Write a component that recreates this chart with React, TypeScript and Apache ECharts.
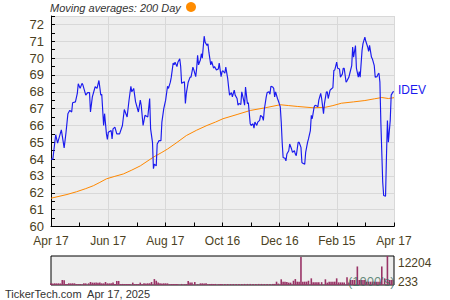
import React, { useEffect, useRef } from "react";
import * as echarts from "echarts";

// days since 2024-04-17, closing price
const price: [number, number][] = [
  [0,64.0],[2,64.0],[3,64.5],[5,65.45],[7,64.95],[11,65.74],[14,64.67],[16,65.6],[18,66.7],[20,66.9],[22,66.8],[23,67.35],[26,67.4],[28,67.9],[29,68.48],[31,68.2],[33,68.5],[34,68.4],[37,67.8],[39,67.95],[41,67.95],[42,66.8],[44,67.7],[47,68.3],[49,68.2],[51,68.67],[53,67.8],[54,67.85],[56,66.0],[57,66.7],[59,65.5],[60,65.17],[61,65.6],[64,65.7],[65,65.2],[66,65.8],[68,65.9],[70,65.5],[73,65.5],[76,66.0],[78,66.95],[81,66.5],[83,67.48],[85,68.33],[86,68.0],[88,68.2],[90,67.4],[93,66.8],[95,67.5],[96,67.2],[98,66.0],[100,66.6],[103,66.5],[105,67.6],[106,65.8],[108,65.0],[109,63.43],[110,63.7],[112,63.6],[113,64.9],[115,65.1],[117,65.1],[118,66.2],[120,67.0],[122,67.5],[124,68.33],[125,68.2],[127,68.57],[128,68.87],[130,69.7],[131,69.6],[132,69.75],[134,69.5],[135,69.75],[137,69.96],[138,69.5],[139,68.5],[142,68.6],[143,67.3],[144,67.9],[146,68.57],[148,68.87],[149,68.87],[151,69.46],[152,69.3],[154,68.9],[155,69.4],[156,70.16],[157,69.6],[159,69.9],[160,70.26],[161,70.0],[163,71.3],[164,70.95],[166,70.75],[167,70.85],[168,70.35],[170,69.6],[171,69.8],[173,69.4],[174,69.5],[176,69.3],[178,69.35],[179,69.7],[181,68.9],[182,69.2],[183,69.25],[185,69.1],[186,69.46],[188,68.8],[189,68.28],[190,67.8],[192,67.95],[193,67.7],[195,68.1],[196,67.8],[198,67.6],[199,67.2],[200,67.3],[202,67.25],[203,68.0],[205,67.5],[206,67.2],[207,68.28],[209,67.3],[210,67.35],[212,66.1],[213,66.0],[215,66.1],[216,65.84],[217,66.2],[219,66.0],[220,66.2],[222,66.3],[223,66.6],[225,66.5],[226,66.3],[227,66.95],[229,67.68],[230,67.95],[232,68.0],[233,67.85],[234,68.33],[236,68.28],[237,68.2],[238,67.7],[239,68.0],[241,67.6],[242,67.45],[244,67.1],[245,66.2],[246,65.0],[247,64.1],[249,64.05],[250,63.9],[251,64.3],[253,64.5],[254,64.9],[256,64.6],[257,64.4],[259,64.5],[260,64.3],[261,64.2],[263,65.0],[264,65.0],[266,64.7],[267,63.8],[268,63.75],[270,63.7],[271,64.4],[273,65.0],[274,65.2],[276,65.7],[277,66.6],[278,66.4],[280,67.1],[281,67.2],[283,67.15],[284,67.1],[285,67.5],[287,67.9],[288,67.6],[290,66.7],[291,67.3],[293,67.98],[294,68.0],[295,67.6],[297,68.1],[298,68.15],[300,68.25],[301,69.27],[302,69.3],[304,69.76],[305,69.4],[307,69.35],[308,68.87],[310,69.05],[311,69.4],[312,69.4],[314,68.57],[315,68.65],[317,68.87],[318,69.1],[320,69.55],[321,70.65],[322,70.06],[324,70.75],[325,69.4],[327,68.87],[328,69.2],[329,68.87],[331,70.46],[332,70.86],[334,71.25],[335,71.0],[337,70.66],[338,70.4],[339,70.76],[341,70.06],[342,69.95],[344,69.55],[345,68.87],[347,68.9],[348,69.05],[349,69.1],[350,68.57],[351,66.2],[353,62.63],[354,61.84],[356,61.8],[357,64.2],[358,66.3],[359,65.0],[361,66.3],[362,67.8],[364,68.0],[365,68.0]
];

// 200-day moving average
const ma200: [number, number][] = [
  [0,61.68],[17,61.9],[27,62.06],[37,62.25],[45,62.42],[52,62.62],[59,62.83],[68,62.98],[77,63.12],[86,63.35],[95,63.6],[109,64.12],[118,64.4],[124,64.6],[133,64.95],[144,65.4],[155,65.72],[166,66.0],[175,66.2],[183,66.4],[198,66.65],[212,66.89],[228,67.05],[244,67.23],[253,67.18],[262,67.13],[279,67.05],[292,67.08],[300,67.18],[309,67.32],[322,67.4],[334,67.48],[344,67.58],[352,67.66],[359,67.6],[365,67.65]
];

// volume (shares)
const volume: [number, number][] = [
  [0,700],[2,650],[4,720],[6,680],[8,700],[10,650],[12,2100],[14,2000],[15,400],[17,420],[19,700],[21,680],[23,720],[25,700],[27,400],[29,380],[31,420],[33,250],[35,700],[37,680],[40,700],[42,1250],[44,1000],[46,980],[48,1020],[50,950],[52,1000],[54,700],[56,680],[58,1250],[60,700],[62,680],[64,700],[66,1100],[68,400],[70,1700],[72,1700],[74,400],[76,450],[78,420],[80,450],[82,430],[84,450],[87,1000],[89,400],[91,420],[93,400],[95,1000],[97,300],[99,700],[101,680],[103,700],[105,720],[107,1250],[110,2500],[112,1800],[114,1000],[116,700],[118,680],[120,700],[122,700],[124,680],[126,300],[128,400],[130,420],[132,400],[134,400],[136,250],[139,450],[142,300],[144,350],[146,1700],[148,1000],[150,1000],[153,1250],[156,300],[159,700],[161,700],[163,680],[165,700],[167,300],[169,450],[171,450],[173,430],[175,450],[178,300],[180,400],[182,450],[185,400],[188,420],[191,400],[194,420],[197,400],[200,420],[203,400],[206,450],[209,450],[212,450],[215,430],[218,450],[221,450],[224,450],[227,430],[230,450],[233,450],[236,450],[238,450],[240,1400],[242,600],[245,2400],[247,1400],[249,1400],[251,1300],[253,1000],[255,1000],[258,1800],[260,2500],[262,1400],[264,1400],[266,11800],[268,1400],[270,1400],[272,1400],[274,1800],[277,2800],[279,1200],[281,1200],[283,1200],[285,1200],[288,1200],[292,2400],[294,1000],[296,1400],[298,1400],[300,1400],[302,1400],[304,2800],[306,1100],[308,1100],[310,1100],[312,1100],[315,3300],[317,1100],[319,2100],[321,2100],[323,2100],[326,7800],[328,2100],[330,2100],[332,2100],[334,2100],[336,1400],[338,1400],[340,1400],[342,1400],[344,1400],[346,1400],[348,1400],[350,1400],[352,7800],[355,2800],[358,12204],[360,2100],[362,2100],[364,2100]
];

const xTickLabels = ["Apr 17", "Jun 17", "Aug 17", "Oct 16", "Dec 16", "Feb 15", "Apr 17"];
const volTickLabels = ["12204", "233"];
const tickerName = "IDEV";
const legendText = "Moving averages: 200 Day";
const footerText = "TickerTech.com  Apr 17, 2025";
const volUnitText = "(1000's)";

const FONT = "'Liberation Sans', Arial, sans-serif";
const LABEL_COLOR = "#4b3f22";
const X_MAX = 365;
const X_INT = X_MAX / 6;

export default function App() {
  const ref = useRef<HTMLDivElement>(null);
  useEffect(() => {
    if (!ref.current) return;
    const chart = echarts.init(ref.current, undefined, { renderer: "svg" });
    chart.setOption({
      animation: false,
      backgroundColor: "#ffffff",
      textStyle: { fontFamily: FONT },
      grid: [
        { left: 51, top: 16, width: 343, height: 210.5, show: true, backgroundColor: "#eeeeee", borderWidth: 0, containLabel: false },
        { left: 51, top: 256, width: 343, height: 29, show: true, backgroundColor: "#eeeeee", borderColor: "#000000", borderWidth: 1, containLabel: false },
      ],
      xAxis: [
        {
          type: "value", gridIndex: 0, min: 0, max: X_MAX, interval: X_INT,
          axisLine: { show: true, onZero: false, lineStyle: { color: "#000", width: 1 } },
          axisTick: { show: true, inside: true, length: 4, lineStyle: { color: "#000" } },
          minorTick: { show: true, splitNumber: 2, length: 4, lineStyle: { color: "#000" } },
          axisLabel: {
            color: LABEL_COLOR, fontSize: 12, fontFamily: FONT, margin: 8,
            formatter: (v: number) => xTickLabels[Math.round(v / X_INT)] ?? "",
          },
          splitLine: { show: true, lineStyle: { color: "#d8d8d8", width: 1 } },
        },
        { type: "value", gridIndex: 1, min: 0, max: X_MAX, show: false },
      ],
      yAxis: [
        {
          type: "value", gridIndex: 0, min: 60, max: 72.5, interval: 1,
          axisLine: { show: true, lineStyle: { color: "#000", width: 1 } },
          axisTick: { show: true, inside: true, length: 4, lineStyle: { color: "#000" } },
          minorTick: { show: true, splitNumber: 2, length: 4, lineStyle: { color: "#000" } },
          axisLabel: {
            color: LABEL_COLOR, fontSize: 13, fontFamily: FONT, margin: 7,
            formatter: (v: number) => (Number.isInteger(v) ? String(v) : ""),
          },
          splitLine: { show: true, lineStyle: { color: "#d8d8d8", width: 1 } },
        },
        { type: "value", gridIndex: 1, min: 0, max: 12204, show: false, splitLine: { show: false } },
      ],
      series: [
        {
          type: "bar", xAxisIndex: 1, yAxisIndex: 1, data: volume, barWidth: 1.6,
          itemStyle: { color: "#993366" }, silent: true,
        },
        {
          type: "line", xAxisIndex: 0, yAxisIndex: 0, data: ma200, showSymbol: false,
          lineStyle: { color: "#ff8800", width: 1 }, silent: true,
        },
        {
          type: "line", xAxisIndex: 0, yAxisIndex: 0, data: price, showSymbol: false,
          lineStyle: { color: "#1a1aee", width: 1.15 }, silent: true,
          endLabel: { show: true, formatter: tickerName, color: "#1a1aee", fontSize: 12, fontFamily: FONT, distance: 4, offset: [0, -2] },
        },
      ],
      graphic: [
        { type: "text", left: 50, top: 2, style: { text: legendText, font: `italic 11px ${FONT}`, fill: "#333333" } },
        { type: "circle", shape: { cx: 191, cy: 7, r: 5 }, style: { fill: "#ff8c00" } },
        { type: "text", x: 398, y: 263, style: { text: volTickLabels[0], font: `12px ${FONT}`, fill: LABEL_COLOR, verticalAlign: "middle" } },
        { type: "text", x: 398, y: 282, style: { text: volTickLabels[1], font: `12px ${FONT}`, fill: LABEL_COLOR, verticalAlign: "middle" } },
        { type: "text", x: 348, y: 281, z: 100, style: { text: volUnitText, font: `13px ${FONT}`, fill: "#3f7060", opacity: 0.8, verticalAlign: "middle" } },
        { type: "text", x: 5, y: 294, style: { text: footerText, font: `11px ${FONT}`, fill: "#333333", verticalAlign: "middle" } },
      ],
    });
    return () => chart.dispose();
  }, []);
  return <div ref={ref} style={{ position: "fixed", left: 0, top: 0, width: 450, height: 300 }} />;
}
